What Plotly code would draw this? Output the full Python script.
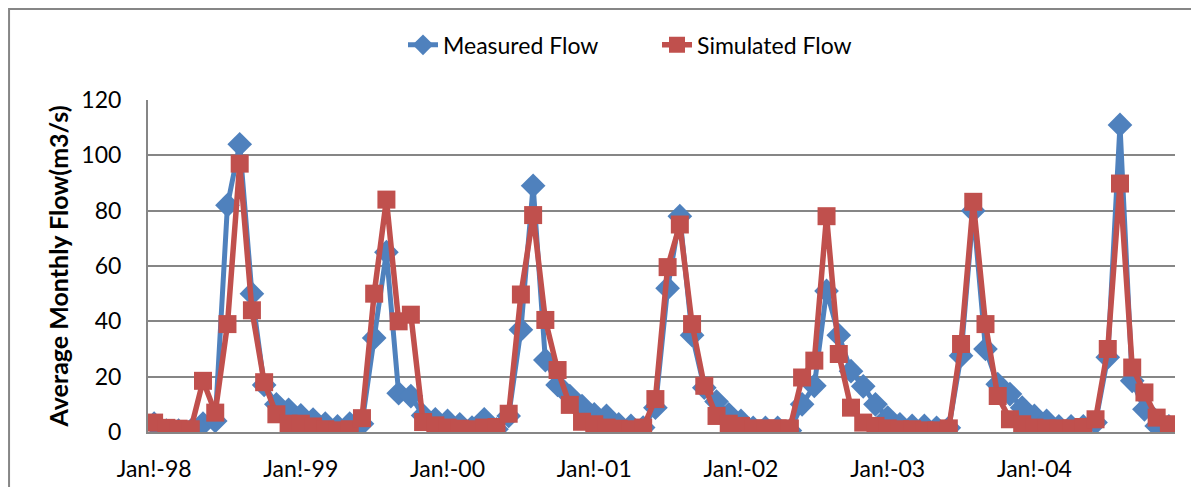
import plotly.graph_objects as go

months = [f"{m}-{y}" for y in ["98", "99", "00", "01", "02", "03", "04"]
          for m in ["Jan", "Feb", "Mar", "Apr", "May", "Jun", "Jul", "Aug", "Sep", "Oct", "Nov", "Dec"]]

measured = [3, 0.5, 0.5, 0.5, 3, 4, 82, 104, 50, 17, 10, 8,
            6, 4.5, 3, 2, 3, 3, 34, 65, 14, 13, 6, 4.6,
            4, 2.8, 1.6, 4.6, 1, 5.8, 37, 89, 26, 17, 13, 9.4,
            6.4, 5.8, 2.8, 2.2, 1.6, 8.8, 52, 78, 35, 16, 11, 6.4,
            4, 1.5, 1.5, 1.5, 0.5, 10, 16.7, 51, 35, 22, 16.5, 10,
            5.2, 2.8, 2.2, 2.2, 1.5, 1.5, 27.6, 80, 30, 17.3, 13.7, 8.8,
            5.8, 4, 2, 2, 2, 3.4, 27, 111, 18.5, 8.2, 2.2, 2]

simulated = [3.4, 1.5, 1.2, 1, 18.5, 7, 39, 97, 44, 18, 6.4, 3,
             3, 2, 1, 0.6, 1, 5, 50, 84, 40, 42.4, 3.6, 2.4,
             1.6, 1.2, 1, 1.6, 1.8, 6.6, 49.7, 78.4, 40.5, 22.4, 9.8, 3.7,
             2.8, 1.6, 1.2, 1, 1.6, 11.9, 59.6, 75, 39, 16.7, 5.8, 3,
             2.2, 1.3, 1.3, 1.3, 1.3, 19.7, 25.8, 78, 28.2, 8.8, 3.4, 2.2,
             1.3, 1, 1, 0.6, 0.6, 1.3, 31.8, 83.2, 39, 13, 4.6, 2.8,
             1.6, 1.3, 1.3, 1.3, 1.8, 4.6, 30, 89.8, 23.3, 14.3, 5.2, 2.8]

tick_labels = ["Jan!-98", "Jan!-99", "Jan!-00", "Jan!-01", "Jan!-02", "Jan!-03", "Jan!-04"]

x = list(range(len(months)))
FONT = "Lato"

fig = go.Figure()
fig.add_trace(go.Scatter(
    x=x, y=measured, name="Measured Flow", mode="lines+markers",
    line=dict(color="#4F81BD", width=5),
    marker=dict(symbol="diamond", size=19, color="#4F81BD"),
    hovertext=months,
))
fig.add_trace(go.Scatter(
    x=x, y=simulated, name="Simulated Flow", mode="lines+markers",
    line=dict(color="#C0504D", width=5.5),
    marker=dict(symbol="square", size=18, color="#C0504D"),
    hovertext=months,
))

fig.update_layout(
    width=1183, height=479,
    margin=dict(l=140, r=16, t=92, b=55, pad=0),
    paper_bgcolor="white", plot_bgcolor="white",
    font=dict(family=FONT, size=23, color="black"),
    legend=dict(orientation="h", x=0.2483, xanchor="left", y=1.166, yanchor="middle",
                font=dict(size=23, family=FONT), traceorder="normal",
                entrywidth=209, entrywidthmode="pixels"),
    xaxis=dict(range=[-0.5, 83.5], tickvals=[0, 12, 24, 36, 48, 60, 72], ticktext=tick_labels,
               showgrid=False, showline=True, linecolor="#868686", linewidth=2,
               ticks="outside", ticklen=15, tickcolor="rgba(0,0,0,0)",
               tickfont=dict(size=23, family=FONT), zeroline=False, automargin=False),
    yaxis=dict(range=[0, 120], dtick=20, showgrid=True, gridcolor="#868686", gridwidth=2,
               showline=True, linecolor="#868686", linewidth=2,
               ticks="outside", ticklen=20, tickcolor="rgba(0,0,0,0)", zeroline=False,
               tickfont=dict(size=23, family=FONT), automargin=False,
               title=dict(text="<b>Average Monthly Flow(m3/s)</b>", font=dict(size=25, family=FONT),
                          standoff=6)),
    shapes=[dict(type="rect", xref="paper", yref="paper", x0=-0.1353, x1=1.05, y0=-0.3, y1=1.274,
                 line=dict(color="#868686", width=2), fillcolor="rgba(0,0,0,0)", layer="below")],
    showlegend=True,
)

fig.write_html("out.html")
